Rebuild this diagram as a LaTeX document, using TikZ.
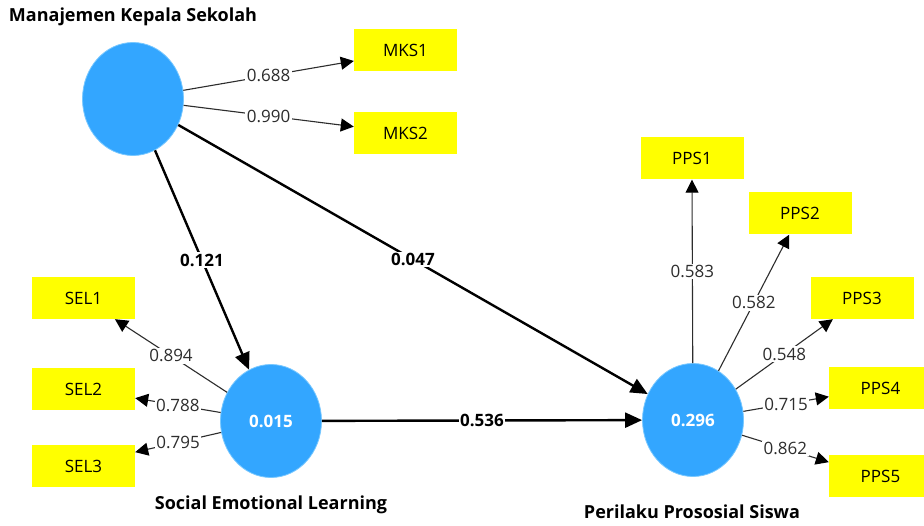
\documentclass[tikz,border=0pt]{standalone}
\usepackage{fontspec}
\setmainfont{Open Sans}
\usetikzlibrary{shapes.geometric,arrows.meta}
\definecolor{lvblue}{RGB}{51,166,255}
\definecolor{lvedge}{RGB}{120,200,255}
\definecolor{indyellow}{RGB}{255,255,0}
\definecolor{loadgray}{RGB}{45,45,45}
\tikzset{
  latent/.style={ellipse, fill=lvblue, draw=lvedge, line width=0.8pt, minimum width=101pt, minimum height=113pt, inner sep=0pt, text=white, font=\fontsize{17}{20}\selectfont\bfseries},
  indic/.style={rectangle, fill=indyellow, minimum width=103pt, minimum height=42pt, inner sep=0pt, font=\fontsize{17}{20}\selectfont},
  title/.style={font=\fontsize{18}{21}\selectfont\bfseries, inner sep=0pt},
  load/.style={draw=loadgray, line width=1.1pt, -{Triangle[length=13pt,width=13pt,color=black]}},
  struct/.style={draw=black, line width=2.4pt, -{Triangle[length=17pt,width=15pt]}},
  loadlab/.style={midway, fill=white, inner sep=1.5pt, text=loadgray, font=\fontsize{17}{20}\selectfont},
  structlab/.style={midway, fill=white, inner sep=1.5pt, font=\fontsize{17}{20}\selectfont\bfseries}
}
\begin{document}
\begin{tikzpicture}[x=1pt,y=-1pt]
\useasboundingbox[fill=white] (0,0) rectangle (924,526);
% latent variables
\node[latent] (mks) at (133,99) {};
\node[latent] (sel) at (271,421) {0.015};
\node[latent] (pps) at (693,420) {0.296};
% titles
\node[title] (tmks) at (133,17) {Manajemen Kepala Sekolah};
\node[title] (tsel) at (271,505) {Social Emotional Learning};
\node[title] (tpps) at (692,512) {Perilaku Prososial Siswa};
% indicators
\node[indic] (mks1) at (405.5,50) {MKS1};
\node[indic] (mks2) at (405.5,133) {MKS2};
\node[indic] (sel1) at (83.5,298) {SEL1};
\node[indic] (sel2) at (83.5,389) {SEL2};
\node[indic] (sel3) at (83.5,466) {SEL3};
\node[indic] (pps1) at (692,158.5) {PPS1};
\node[indic] (pps2) at (800,213.5) {PPS2};
\node[indic] (pps3) at (862,298) {PPS3};
\node[indic] (pps4) at (880.5,388.5) {PPS4};
\node[indic] (pps5) at (880.5,476) {PPS5};
% loadings
\draw[load] (mks) -- (mks1.192) node[loadlab] {0.688};
\draw[load] (mks) -- (mks2.173) node[loadlab] {0.990};
\draw[load] (sel) -- (sel1.326) node[loadlab] {0.894};
\draw[load] (sel) -- (sel2.350) node[loadlab] {0.788};
\draw[load] (sel) -- (sel3.15) node[loadlab] {0.795};
\draw[load] (pps) -- (pps1.south) node[loadlab] {0.583};
\draw[load] (pps) -- (pps2.243) node[loadlab] {0.582};
\draw[load] (pps) -- (pps3.216) node[loadlab] {0.548};
\draw[load] (pps) -- (pps4.189) node[loadlab] {0.715};
\draw[load] (pps) -- (pps5.165) node[loadlab] {0.862};
% structural paths
\draw[struct] (mks) -- (sel) node[structlab] {0.121};
\draw[struct] (mks) -- (pps) node[structlab] {0.047};
\draw[struct] (sel) -- (pps) node[structlab] {0.536};
\end{tikzpicture}
\end{document}
